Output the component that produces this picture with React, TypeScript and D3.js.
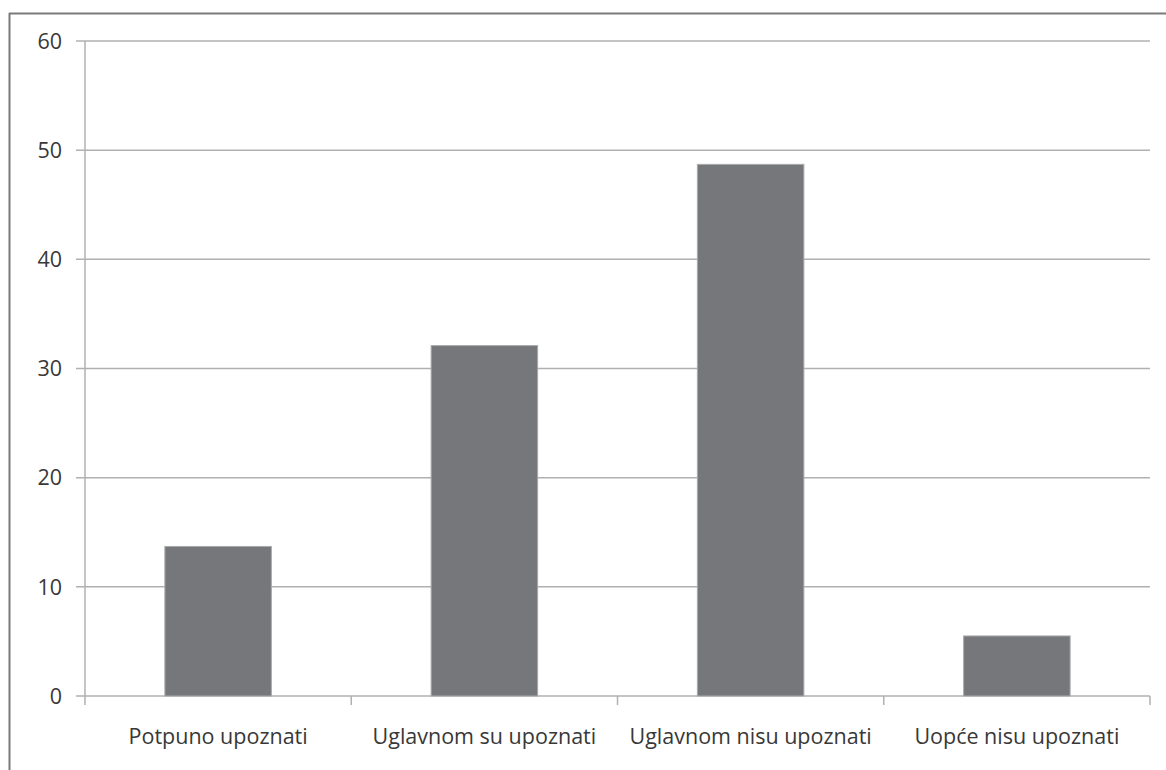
import React from "react";
import * as d3 from "d3";

const categories = ["Potpuno upoznati", "Uglavnom su upoznati", "Uglavnom nisu upoznati", "Uopće nisu upoznati"];
const values = [13.7, 32.1, 48.7, 5.5];
const yTicks = [0, 10, 20, 30, 40, 50, 60];

const W = 1166;
const H = 770;
const left = 85;
const right = 1150;
const top = 41;
const bottom = 696;
const FONT = "'Open Sans', 'Noto Sans', sans-serif";

export default function App() {
  const x = d3.scaleBand<string>().domain(categories).range([left, right]).paddingInner(0).paddingOuter(0);
  const y = d3.scaleLinear().domain([0, 60]).range([bottom, top]);
  const bw = x.bandwidth() * 0.4;
  const boundaries = categories.map((c) => x(c) as number).concat([right]);
  return (
    <svg width={W} height={H} style={{ position: "absolute", left: 0, top: 0, background: "#fff" }}>
      <rect x={0} y={0} width={W} height={H} fill="#fff" />
      {/* outer frame */}
      <line x1={9.5} y1={13} x2={9.5} y2={H} stroke="#7a7a7a" strokeWidth={2} />
      <line x1={9} y1={13.5} x2={W} y2={13.5} stroke="#7a7a7a" strokeWidth={2} />
      {/* gridlines */}
      {yTicks.map((t) => (
        <g key={t}>
          <line x1={76} x2={right} y1={y(t)} y2={y(t)} stroke="#b0b0b0" strokeWidth={1.5} />
          <text x={62} y={y(t)} dy="0.36em" textAnchor="end" fontFamily={FONT} fontSize={21.5} fill="#383838">
            {t}
          </text>
        </g>
      ))}
      {/* y axis */}
      <line x1={left} x2={left} y1={top} y2={bottom} stroke="#b0b0b0" strokeWidth={1.5} />
      {/* category ticks */}
      {boundaries.map((b, i) => (
        <line key={i} x1={b} x2={b} y1={bottom} y2={bottom + 9} stroke="#b0b0b0" strokeWidth={1.5} />
      ))}
      {/* bars */}
      {categories.map((c, i) => {
        const cx = (x(c) as number) + x.bandwidth() / 2;
        return (
          <rect
            key={c}
            x={cx - bw / 2}
            y={y(values[i])}
            width={bw}
            height={bottom - y(values[i])}
            fill="#76777b"
            stroke="#a9aaad"
            strokeWidth={1}
          />
        );
      })}
      {/* category labels */}
      {categories.map((c) => (
        <text
          key={c}
          x={(x(c) as number) + x.bandwidth() / 2}
          y={744}
          textAnchor="middle"
          fontFamily={FONT}
          fontSize={21.5}
          fill="#383838"
        >
          {c}
        </text>
      ))}
    </svg>
  );
}
